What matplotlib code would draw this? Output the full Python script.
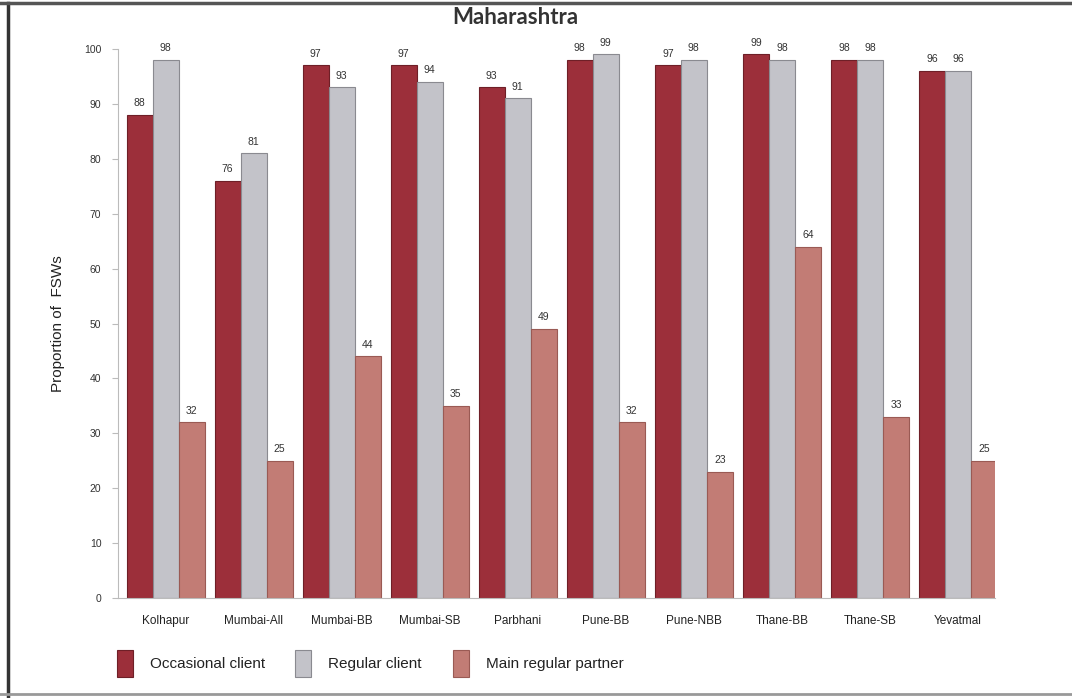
import matplotlib
matplotlib.use("Agg")
import matplotlib.pyplot as plt
from matplotlib.patches import Rectangle
from matplotlib.lines import Line2D
import numpy as np

categories = ["Kolhapur", "Mumbai-All", "Mumbai-BB", "Mumbai-SB", "Parbhani",
              "Pune-BB", "Pune-NBB", "Thane-BB", "Thane-SB", "Yevatmal"]
occasional = [88, 76, 97, 97, 93, 98, 97, 99, 98, 96]
regular = [98, 81, 93, 94, 91, 99, 98, 98, 98, 96]
main_partner = [32, 25, 44, 35, 49, 32, 23, 64, 33, 25]
series_names = ["Occasional client", "Regular client", "Main regular partner"]
yticks = [0, 10, 20, 30, 40, 50, 60, 70, 80, 90, 100]

colors = ["#9c2f3a", "#c3c3c9", "#c27c75"]
edges = ["#6e1f27", "#8a8a90", "#9a5a54"]

plt.rcParams['font.family'] = ['Liberation Sans', 'DejaVu Sans']
fig = plt.figure(figsize=(10.72, 6.98), dpi=100)
W, H = 1072, 698
ax = fig.add_axes([118 / W, 1 - 598 / H, (995 - 118) / W, (598 - 49) / H])

x = np.arange(len(categories))
bw = 0.295
for i, (vals, c, ec) in enumerate(zip([occasional, regular, main_partner], colors, edges)):
    pos = x + (i - 1) * bw
    ax.bar(pos, vals, width=bw, color=c, edgecolor=ec, linewidth=0.8)
    for p, v in zip(pos, vals):
        ax.text(p, v + 1.2, str(v), ha='center', va='bottom', fontsize=7.5,
                color='#333333', clip_on=False)

ax.set_xlim(-0.54, 9.42)
ax.set_ylim(0, 100)
ax.set_yticks(yticks)
ax.set_yticklabels([str(t) for t in yticks], fontsize=7.5, color='#333333')
ax.set_xticks(x)
ax.set_xticklabels(categories, fontsize=8.5, color='#222222')
ax.tick_params(axis='x', length=0, pad=12)
ax.tick_params(axis='y', length=4, color='#bbbbbb', pad=8)
for s in ['top', 'right']:
    ax.spines[s].set_visible(False)
ax.spines['left'].set_color('#bbbbbb')
ax.spines['bottom'].set_color('#bbbbbb')
ax.set_ylabel("Proportion of  FSWs", fontsize=11, color='#222222', labelpad=14)

fig.text(515 / W, 1 - 18 / H, "Maharashtra", ha='center', va='center',
         fontsize=16, fontweight='bold', color='#333333', family=['Lato', 'DejaVu Sans'])

# Legend
leg_items = [(117, series_names[0]), (295, series_names[1]), (453, series_names[2])]
for (lx, name), c, ec in zip(leg_items, colors, edges):
    fig.patches.append(Rectangle((lx / W, 1 - 677 / H), 16 / W, 27 / H,
                                 transform=fig.transFigure, facecolor=c,
                                 edgecolor=ec, linewidth=0.8))
    fig.text((lx + 33) / W, 1 - 664 / H, name, ha='left', va='center',
             fontsize=11, color='#222222')

# Frame lines
fig.add_artist(Line2D([7.5 / W, 7.5 / W], [0, 1 - 3 / H], transform=fig.transFigure,
                      color='#333333', linewidth=2.5))
fig.add_artist(Line2D([0, 1], [1 - 3 / H, 1 - 3 / H], transform=fig.transFigure,
                      color='#555555', linewidth=2.5))
fig.add_artist(Line2D([0, 1], [1 - 694 / H, 1 - 694 / H], transform=fig.transFigure,
                      color='#999999', linewidth=2))

fig.savefig("out.png", dpi=100, facecolor='white')
